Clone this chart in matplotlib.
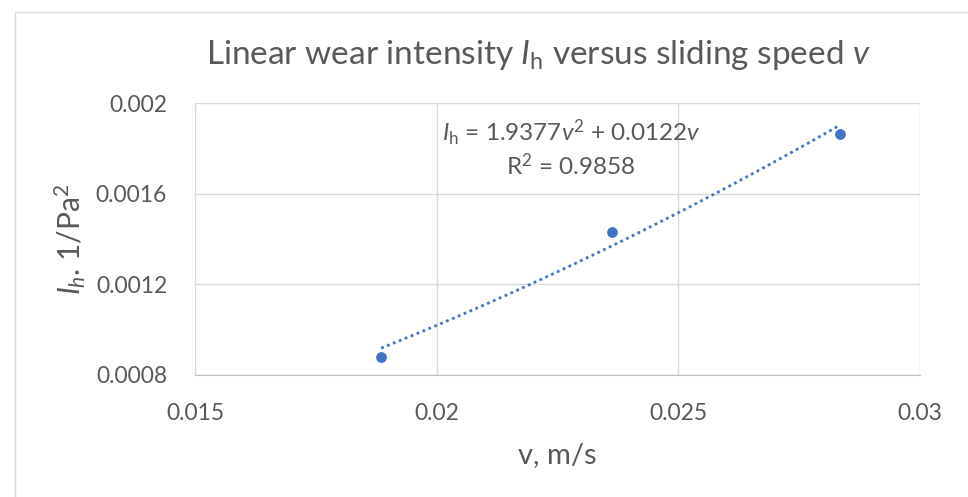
import matplotlib.pyplot as plt
import numpy as np
from matplotlib.patches import Rectangle

plt.rcParams['font.family'] = ['Lato', 'DejaVu Sans']
plt.rcParams['mathtext.fontset'] = 'custom'
plt.rcParams['mathtext.rm'] = 'Lato'
plt.rcParams['mathtext.it'] = 'Lato:italic'

# measured sliding speed (m/s) and linear wear intensity
speed = [0.01885, 0.02363, 0.02834]
wear = [0.00088, 0.00143, 0.001863]

# quadratic trend through the origin
coef_a = 1.9377
coef_b = 0.0122
r_squared = 0.9858

x_ticks = [0.015, 0.02, 0.025, 0.03]
x_labels = ["0.015", "0.02", "0.025", "0.03"]
y_ticks = [0.0008, 0.0012, 0.0016, 0.002]
y_labels = ["0.0008", "0.0012", "0.0016", "0.002"]

blue = "#4472C4"
grey = "#595959"

fig = plt.figure(figsize=(9.68, 4.97), dpi=100)
fig.patches.append(Rectangle((15 / 968, -0.1), 1.1, 1 - 12 / 497 + 0.1,
                             transform=fig.transFigure, fill=False,
                             edgecolor="#d9d9d9", linewidth=1))

ax = fig.add_axes([195 / 968, 1 - 375 / 497, 725 / 968, 272 / 497])

v_fit = np.linspace(speed[0], speed[-1], 100)
ax.plot(v_fit, coef_a * v_fit ** 2 + coef_b * v_fit, linestyle=(0, (1, 1.3)),
        color=blue, linewidth=2)
ax.scatter(speed, wear, s=60, color=blue, zorder=3, linewidths=0)

ax.set_xlim(0.015, 0.03)
ax.set_ylim(0.0008, 0.002)
ax.set_xticks(x_ticks)
ax.set_xticklabels(x_labels)
ax.set_yticks(y_ticks)
ax.set_yticklabels(y_labels)
ax.tick_params(length=0, labelsize=16.5, labelcolor=grey)
ax.tick_params(axis='x', pad=20)
ax.tick_params(axis='y', pad=20)
ax.grid(True, color="#d9d9d9", linewidth=1)
ax.set_axisbelow(True)
for side in ax.spines.values():
    side.set_visible(False)
ax.spines['bottom'].set_visible(True)
ax.spines['bottom'].set_color("#bfbfbf")
ax.spines['left'].set_visible(True)
ax.spines['left'].set_color("#d9d9d9")

ax.set_xlabel("v, m/s", fontsize=21, color=grey, labelpad=13)
ax.set_ylabel(r"$\mathit{I}_\mathit{h}$. 1/Pa$^2$", fontsize=21.5, color=grey, labelpad=6)

fig.text(538 / 968, 1 - 55 / 497,
         r"Linear wear intensity $\mathit{I}_\mathrm{h}$ versus sliding speed $\mathit{v}$",
         ha="center", va="center", fontsize=24, color=grey)

ax.text(0.02278, 0.001868,
        rf"$\mathit{{I}}_\mathrm{{h}}$ = {coef_a}$\mathit{{v}}^2$ + {coef_b}$\mathit{{v}}$",
        ha="center", va="center", fontsize=17.5, color=grey)
ax.text(0.02278, 0.001722, rf"R$^2$ = {r_squared}",
        ha="center", va="center", fontsize=17.5, color=grey)

fig.savefig("out.png", dpi=100)
